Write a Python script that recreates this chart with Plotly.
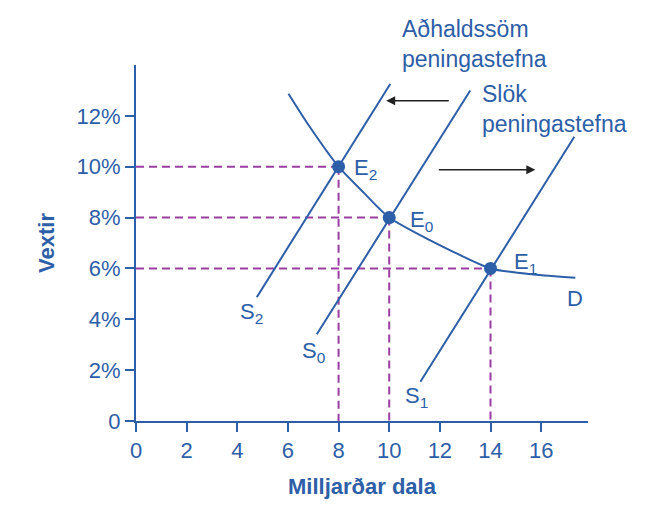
import plotly.graph_objects as go

# eftirspurnarferill D (lesið af myndinni)
d_x = [6.02, 6.88, 8.0, 9.0, 10.0, 11.62, 12.41, 14.0, 15.7, 17.35]
d_y = [12.87, 11.54, 10.0, 8.97, 8.0, 7.1, 6.71, 6.0, 5.76, 5.63]

# framboðsferlar S2, S0, S1 (endapunktar)
s2_x = [4.77, 10.04]
s2_y = [4.87, 13.25]
s0_x = [7.14, 13.2]
s0_y = [3.41, 13.0]
s1_x = [11.23, 17.31]
s1_y = [1.54, 11.18]

# jafnvægispunktar
eq_x = [8, 10, 14]
eq_y = [10, 8, 6]
eq_names = ["E<sub>2</sub>", "E<sub>0</sub>", "E<sub>1</sub>"]

x_ticks = [0, 2, 4, 6, 8, 10, 12, 14, 16]
y_ticks = [0, 2, 4, 6, 8, 10, 12]
y_ticktext = ["0", "2%", "4%", "6%", "8%", "10%", "12%"]

BLUE = "#2d5ea8"
PURPLE = "#9b3ea2"
FONT = "Liberation Sans, Arial, sans-serif"

fig = go.Figure()

# brotalínur að ásum
for xv, yv in zip(eq_x, eq_y):
    fig.add_trace(go.Scatter(
        x=[0, xv], y=[yv, yv], mode="lines",
        line=dict(color=PURPLE, width=2, dash="8px,5px"),
        hoverinfo="skip", showlegend=False
    ))
    fig.add_trace(go.Scatter(
        x=[xv, xv], y=[yv, 0], mode="lines",
        line=dict(color=PURPLE, width=2, dash="8px,5px"),
        hoverinfo="skip", showlegend=False
    ))

for sx, sy in [(s2_x, s2_y), (s0_x, s0_y), (s1_x, s1_y)]:
    fig.add_trace(go.Scatter(
        x=sx, y=sy, mode="lines", line=dict(color=BLUE, width=2),
        showlegend=False
    ))

fig.add_trace(go.Scatter(
    x=d_x, y=d_y, mode="lines", line=dict(color=BLUE, width=2, shape="spline", smoothing=0.7),
    showlegend=False
))

fig.add_trace(go.Scatter(
    x=eq_x, y=eq_y, mode="markers", marker=dict(color=BLUE, size=13),
    showlegend=False
))

# merkingar
labels = [
    (8.54, 9.92, eq_names[0]),
    (10.75, 7.86, eq_names[1]),
    (14.85, 6.2, eq_names[2]),
    (4.03, 4.24, "S<sub>2</sub>"),
    (6.48, 2.7, "S<sub>0</sub>"),
    (10.55, 0.94, "S<sub>1</sub>"),
    (16.96, 4.82, "D"),
]
for lx, ly, txt in labels:
    fig.add_annotation(x=lx, y=ly, text=txt, showarrow=False, xanchor="left", yanchor="middle",
                       font=dict(color=BLUE, size=22, family=FONT))

fig.add_annotation(x=10.43, y=1.059, yref="paper", text="Aðhaldssöm<br>peningastefna", showarrow=False,
                   xanchor="left", yanchor="middle", align="left",
                   font=dict(color=BLUE, size=23, family=FONT))
fig.add_annotation(x=13.6, y=12.27, text="Slök<br>peningastefna", showarrow=False,
                   xanchor="left", yanchor="middle", align="left",
                   font=dict(color=BLUE, size=23, family=FONT))

# örvar
fig.add_annotation(x=9.88, y=12.59, ax=12.41, ay=12.59, axref="x", ayref="y", xref="x", yref="y",
                   text="", showarrow=True, arrowhead=2, arrowsize=1.2, arrowwidth=1.5, arrowcolor="#222")
fig.add_annotation(x=15.77, y=9.88, ax=11.9, ay=9.88, axref="x", ayref="y", xref="x", yref="y",
                   text="", showarrow=True, arrowhead=2, arrowsize=1.2, arrowwidth=1.5, arrowcolor="#222")

fig.update_layout(
    width=650, height=520,
    margin=dict(l=128, r=70, t=57, b=107),
    plot_bgcolor="white", paper_bgcolor="white",
    font=dict(family=FONT, color=BLUE, size=22),
    xaxis=dict(
        range=[0, 17.85], tickvals=x_ticks, showgrid=False, zeroline=False,
        showline=True, linecolor=BLUE, linewidth=2,
        ticks="outside", ticklen=9, tickwidth=2, tickcolor=BLUE,
        tickfont=dict(size=22, color=BLUE),
        title=dict(text="<b>Milljarðar dala</b>", font=dict(size=22, color=BLUE), standoff=16),
    ),
    yaxis=dict(
        range=[0, 14], tickvals=y_ticks, ticktext=y_ticktext, showgrid=False, zeroline=False,
        showline=True, linecolor=BLUE, linewidth=2,
        ticks="outside", ticklen=9, tickwidth=2, tickcolor=BLUE,
        tickfont=dict(size=22, color=BLUE),
        title=dict(text="<b>Vextir</b>", font=dict(size=22, color=BLUE), standoff=16),
    ),
)

fig.write_html("out.html")
